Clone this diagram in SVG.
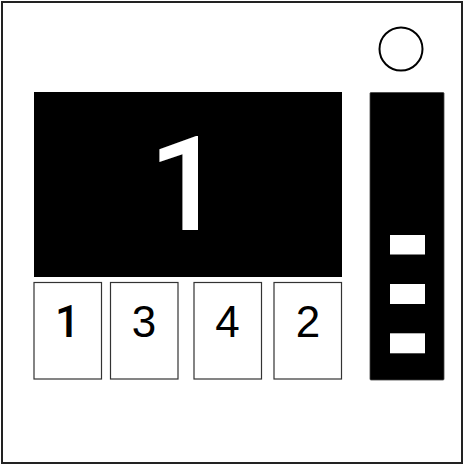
<svg xmlns="http://www.w3.org/2000/svg" width="464" height="465" viewBox="0 0 464 465">
<style>
.key{fill:#fff;stroke:#333;stroke-width:1.2}
.kt{font-family:"Liberation Sans",Arial,sans-serif;font-size:44px;fill:#000;text-anchor:middle}
.one{font-family:Roboto,"Liberation Sans",Arial,sans-serif;font-weight:500}
.led{fill:#fff}
</style>
<rect x="0" y="0" width="464" height="465" fill="#fff"/>
<g id="frame"><rect x="2" y="2" width="460" height="461" fill="#fff" stroke="#222" stroke-width="2"/></g>
<g id="indicator"><circle cx="401" cy="49" r="21.5" fill="#fff" stroke="#000" stroke-width="2"/></g>
<g id="display">
<rect x="34" y="92" width="308" height="185" fill="#000"/>
<text class="one" x="186" y="230" font-size="132" fill="#fff" text-anchor="middle">1</text>
</g>
<g id="key1"><rect class="key" x="34" y="282.5" width="67.5" height="96.5"/><text class="kt one" x="67.5" y="337">1</text></g>
<g id="key3"><rect class="key" x="110.5" y="282.5" width="67.5" height="96.5"/><text class="kt" x="144" y="337">3</text></g>
<g id="key4"><rect class="key" x="194" y="282.5" width="67.5" height="96.5"/><text class="kt" x="227.5" y="337">4</text></g>
<g id="key2"><rect class="key" x="274" y="282.5" width="67.5" height="96.5"/><text class="kt" x="308" y="337">2</text></g>
<g id="sidebar">
<rect x="370" y="92.5" width="74" height="287.5" rx="1" fill="#000" stroke="#444" stroke-width="0.8"/>
<rect class="led" x="390" y="235" width="35" height="19.5"/>
<rect class="led" x="390" y="284" width="35" height="20"/>
<rect class="led" x="390" y="333.3" width="35" height="20"/>
</g>
<g id="connectors"/>
</svg>
